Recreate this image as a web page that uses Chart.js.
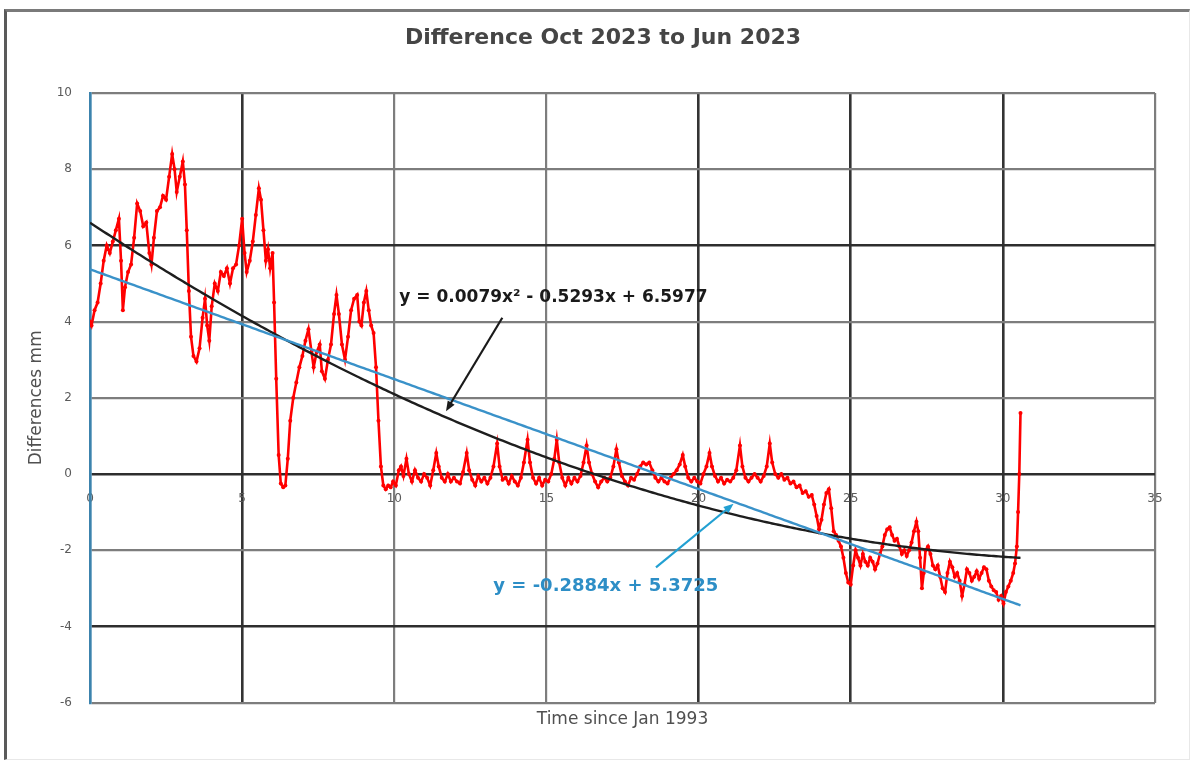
<!DOCTYPE html>
<html>
 <head>
  <meta charset="utf-8" />
  <title>Difference Oct 2023 to Jun 2023</title>
  <style>
   body { margin: 0; background: #fff; overflow: hidden; }
   #diffChart { position: absolute; left: 0; top: 0; }
   #frame { position: absolute; left: 4px; top: 9px; width: 1182px; height: 747px;
            border-left: 3px solid #5a5a5a; border-top: 3px solid #7a7a7a;
            border-right: 1px solid #e8e8e8; border-bottom: 1px solid #e8e8e8;
            pointer-events: none; }
  </style>
 </head>
 <body>
  <canvas id="diffChart" width="1193" height="760"></canvas>
  <div id="frame"></div>

  <script src="https://cdn.jsdelivr.net/npm/chart.js@4.4.0/dist/chart.umd.min.js"></script>
  <script>

// ---- data ----
const chartTitle = 'Difference Oct 2023 to Jun 2023';
const xTitle = 'Time since Jan 1993';
const yTitle = 'Differences mm';

const xTickValues = [0, 5, 10, 15, 20, 25, 30, 35];
const yTickValues = [-6, -4, -2, 0, 2, 4, 6, 8, 10];

// years since Jan 1993
const timeYears = [
  0.00, 0.05, 0.15, 0.25, 0.35, 0.45, 0.55, 0.65, 0.75, 0.85, 0.95, 1.02, 1.08, 1.15, 1.25, 1.35, 1.45, 1.55, 1.65, 1.75,
  1.85, 1.95, 2.02, 2.10, 2.20, 2.30, 2.40, 2.50, 2.60, 2.70, 2.78, 2.85, 2.95, 3.05, 3.12, 3.18, 3.25, 3.32, 3.40, 3.50,
  3.60, 3.70, 3.78, 3.85, 3.92, 4.00, 4.10, 4.20, 4.30, 4.40, 4.50, 4.60, 4.70, 4.80, 4.90, 5.00, 5.08, 5.15, 5.25, 5.35,
  5.45, 5.55, 5.62, 5.70, 5.78, 5.85, 5.92, 6.00, 6.05, 6.12, 6.20, 6.27, 6.35, 6.42, 6.50, 6.58, 6.68, 6.78, 6.88, 6.98,
  7.08, 7.18, 7.28, 7.35, 7.45, 7.55, 7.62, 7.72, 7.82, 7.92, 8.02, 8.10, 8.18, 8.28, 8.38, 8.48, 8.58, 8.68, 8.78, 8.85,
  8.92, 9.00, 9.08, 9.16, 9.24, 9.32, 9.40, 9.48, 9.56, 9.64, 9.72, 9.80, 9.88, 9.96,
  10.05, 10.15, 10.22, 10.30, 10.40, 10.48, 10.58, 10.68, 10.78, 10.88, 10.98,
  11.08, 11.18, 11.28, 11.38, 11.46, 11.56, 11.66, 11.76, 11.86, 11.96,
  12.06, 12.16, 12.26, 12.38, 12.46, 12.56, 12.66, 12.76, 12.86, 12.96,
  13.06, 13.16, 13.26, 13.38, 13.46, 13.56, 13.66, 13.76, 13.86, 13.96,
  14.06, 14.16, 14.26, 14.38, 14.46, 14.56, 14.66, 14.76, 14.86, 14.96,
  15.06, 15.16, 15.26, 15.34, 15.42, 15.52, 15.62, 15.72, 15.82, 15.92,
  16.02, 16.12, 16.22, 16.32, 16.40, 16.50, 16.60, 16.70, 16.80, 16.90,
  17.00, 17.10, 17.20, 17.30, 17.38, 17.48, 17.58, 17.68, 17.78, 17.88, 17.98,
  18.08, 18.18, 18.28, 18.38, 18.48, 18.58, 18.68, 18.78, 18.88, 18.98,
  19.08, 19.18, 19.28, 19.38, 19.48, 19.56, 19.66, 19.76, 19.86, 19.96,
  20.06, 20.16, 20.26, 20.36, 20.44, 20.54, 20.64, 20.74, 20.84, 20.94,
  21.04, 21.14, 21.24, 21.36, 21.44, 21.54, 21.64, 21.74, 21.84, 21.94,
  22.04, 22.14, 22.24, 22.34, 22.42, 22.52, 22.62, 22.72, 22.82, 22.92,
  23.02, 23.12, 23.22, 23.32, 23.42, 23.52, 23.62, 23.72, 23.80, 23.88, 23.96, 24.04, 24.12, 24.20, 24.28, 24.36, 24.44,
  24.52, 24.60, 24.68, 24.76, 24.84, 24.92, 25.00, 25.08, 25.16, 25.24, 25.32, 25.40, 25.48, 25.56, 25.64, 25.72, 25.80,
  25.88, 25.96, 26.04, 26.12, 26.20, 26.28, 26.36, 26.44, 26.52, 26.60, 26.68, 26.76, 26.84, 26.92, 27.00, 27.08, 27.16,
  27.22, 27.28, 27.34, 27.40, 27.46, 27.54, 27.62, 27.70, 27.78, 27.86, 27.94, 28.02, 28.10, 28.18, 28.26, 28.34, 28.42,
  28.50, 28.58, 28.66, 28.74, 28.82, 28.90, 28.98, 29.06, 29.14, 29.22, 29.30, 29.38, 29.46, 29.54, 29.62, 29.70, 29.78,
  29.86, 29.94, 30.02, 30.10, 30.18, 30.26, 30.34, 30.40, 30.46, 30.50, 30.54, 30.58
];

// difference in mm
const diffMm = [
  4.0, 3.9, 4.3, 4.5, 5.0, 5.6, 6.0, 5.8, 6.1, 6.4, 6.7, 5.6, 4.3, 4.9, 5.3, 5.5, 6.2, 7.1, 6.9, 6.5,
  6.6, 5.8, 5.5, 6.2, 6.9, 7.0, 7.3, 7.2, 7.8, 8.4, 8.0, 7.4, 7.8, 8.2, 7.6, 6.4, 4.8, 3.6, 3.1, 2.95,
  3.3, 4.1, 4.6, 3.9, 3.5, 4.4, 5.0, 4.8, 5.3, 5.2, 5.4, 5.0, 5.4, 5.5, 6.0, 6.7, 5.8, 5.3, 5.6, 6.1,
  6.8, 7.5, 7.2, 6.4, 5.6, 5.9, 5.4, 5.8, 4.5, 2.5, 0.5, -0.25, -0.35, -0.3, 0.4, 1.4, 2.0, 2.4, 2.8, 3.1,
  3.5, 3.8, 3.2, 2.8, 3.2, 3.4, 2.7, 2.5, 3.0, 3.4, 4.2, 4.7, 4.2, 3.4, 3.0, 3.6, 4.3, 4.6, 4.7, 4.0,
  3.9, 4.5, 4.8, 4.3, 3.9, 3.7, 2.8, 1.4, 0.2, -0.3, -0.4, -0.3, -0.35, -0.2,
  -0.3, 0.1, 0.2, -0.05, 0.4, 0.0, -0.2, 0.1, -0.1, -0.2, 0.0,
  -0.1, -0.3, 0.1, 0.55, 0.2, -0.1, -0.2, 0.0, -0.2, -0.1,
  -0.2, -0.25, 0.05, 0.55, 0.1, -0.15, -0.3, -0.05, -0.2, -0.1,
  -0.25, -0.1, 0.2, 0.8, 0.2, -0.15, -0.1, -0.25, -0.05, -0.2,
  -0.3, -0.1, 0.3, 0.9, 0.3, -0.1, -0.25, -0.1, -0.3, -0.15,
  -0.2, 0.0, 0.4, 0.9, 0.3, -0.1, -0.3, -0.1, -0.25, -0.1,
  -0.2, -0.05, 0.3, 0.75, 0.3, 0.0, -0.2, -0.35, -0.2, -0.1,
  -0.2, -0.1, 0.2, 0.65, 0.3, -0.05, -0.2, -0.3, -0.1, -0.15, 0.0,
  0.2, 0.3, 0.25, 0.3, 0.1, -0.1, -0.2, -0.1, -0.2, -0.25,
  -0.1, 0.0, 0.1, 0.25, 0.5, 0.2, -0.1, -0.2, -0.1, -0.2,
  -0.25, 0.0, 0.2, 0.55, 0.2, -0.05, -0.2, -0.1, -0.25, -0.15,
  -0.2, -0.1, 0.1, 0.75, 0.2, -0.1, -0.2, -0.1, 0.0, -0.1,
  -0.2, -0.05, 0.2, 0.8, 0.3, 0.0, -0.1, 0.0, -0.15, -0.1,
  -0.25, -0.2, -0.35, -0.3, -0.5, -0.45, -0.6, -0.55, -0.8, -1.1, -1.45, -1.2, -0.8, -0.5, -0.4, -0.9, -1.5,
  -1.6, -1.75, -1.9, -2.2, -2.6, -2.85, -2.9, -2.4, -2.0, -2.2, -2.4, -2.1, -2.3, -2.4, -2.2, -2.3, -2.5,
  -2.35, -2.1, -1.9, -1.6, -1.45, -1.4, -1.6, -1.75, -1.7, -1.9, -2.1, -2.0, -2.15, -2.0, -1.8, -1.5, -1.25,
  -1.5, -2.2, -3.0, -2.6, -2.0, -1.9, -2.1, -2.4, -2.5, -2.4, -2.7, -3.0, -3.1, -2.6, -2.3, -2.45, -2.7,
  -2.6, -2.8, -3.2, -2.9, -2.5, -2.6, -2.8, -2.7, -2.55, -2.75, -2.6, -2.45, -2.5, -2.8, -2.95, -3.05, -3.1,
  -3.3, -3.2, -3.4, -3.1, -2.95, -2.8, -2.6, -2.35, -1.9, -1.0, 0.0, 1.6
];

// trend lines as printed on the chart
const polyFit = [0.0079, -0.5293, 6.5977];   // a x^2 + b x + c
const linearFit = [-0.2884, 5.3725];         // m x + c
const polyLabel = 'y = 0.0079x\u00B2 - 0.5293x + 6.5977';
const linearLabel = 'y = -0.2884x + 5.3725';

// ---- build series ----
const redPoints = timeYears.map((t, i) => ({ x: t, y: diffMm[i] }));
const polyPoints = timeYears.map(t => ({ x: t, y: polyFit[0] * t * t + polyFit[1] * t + polyFit[2] }));
const linearPoints = timeYears.map(t => ({ x: t, y: linearFit[0] * t + linearFit[1] }));

const darkRows = [6, 0, -4];
const darkCols = [5, 20, 25, 30];
const blueAxis = '#3c83ad';

function drawArrow(ctx, x1, y1, x2, y2, color) {
  const ang = Math.atan2(y2 - y1, x2 - x1);
  ctx.save();
  ctx.strokeStyle = color;
  ctx.fillStyle = color;
  ctx.lineWidth = 2.2;
  ctx.beginPath();
  ctx.moveTo(x1, y1);
  ctx.lineTo(x2 - 6 * Math.cos(ang), y2 - 6 * Math.sin(ang));
  ctx.stroke();
  ctx.beginPath();
  ctx.moveTo(x2, y2);
  ctx.lineTo(x2 - 10 * Math.cos(ang) + 4 * Math.sin(ang), y2 - 10 * Math.sin(ang) - 4 * Math.cos(ang));
  ctx.lineTo(x2 - 10 * Math.cos(ang) - 4 * Math.sin(ang), y2 - 10 * Math.sin(ang) + 4 * Math.cos(ang));
  ctx.closePath();
  ctx.fill();
  ctx.restore();
}

// title + trend line notes
const notesPlugin = {
  id: 'notes',
  afterDraw(chart) {
    const ctx = chart.ctx;
    const sx = chart.scales.x, sy = chart.scales.y;
    const px = v => sx.getPixelForValue(v);
    const py = v => sy.getPixelForValue(v);

    ctx.save();
    ctx.textAlign = 'center';
    ctx.textBaseline = 'middle';
    ctx.fillStyle = '#454545';
    ctx.font = 'bold 22px "DejaVu Sans"';
    ctx.fillText(chartTitle, 603, 38);

    ctx.fillStyle = '#1a1a1a';
    ctx.font = 'bold 17px "DejaVu Sans"';
    ctx.fillText(polyLabel, px(15.23), py(4.62));
    ctx.fillStyle = '#2d8ec6';
    ctx.font = 'bold 18px "DejaVu Sans"';
    ctx.fillText(linearLabel, px(16.95), py(-2.94));
    ctx.restore();

    drawArrow(ctx, px(13.55), py(4.1), px(11.7), py(1.65), '#1a1a1a');
    drawArrow(ctx, px(18.6), py(-2.45), px(21.15), py(-0.78), '#22a0d2');
  }
};

new Chart(document.getElementById('diffChart'), {
  type: 'line',
  data: {
    datasets: [
      {
        label: 'Difference',
        data: redPoints,
        borderColor: '#ff0000',
        backgroundColor: '#ff0000',
        borderWidth: 2.6,
        pointRadius: 2,
        pointBorderWidth: 0,
        tension: 0,
        order: 3
      },
      {
        label: 'Poly. trend',
        data: polyPoints,
        borderColor: '#1e1e1e',
        borderWidth: 2.4,
        pointRadius: 0,
        tension: 0,
        order: 2
      },
      {
        label: 'Linear trend',
        data: linearPoints,
        borderColor: '#3a92c9',
        borderWidth: 2.4,
        pointRadius: 0,
        tension: 0,
        order: 1
      }
    ]
  },
  options: {
    responsive: false,
    animation: false,
    events: [],
    layout: { padding: { left: 8, right: 38, top: 93, bottom: 22 } },
    plugins: {
      legend: { display: false },
      tooltip: { enabled: false }
    },
    scales: {
      x: {
        type: 'linear',
        min: 0,
        max: 35,
        afterBuildTicks: s => { s.ticks = xTickValues.map(v => ({ value: v })); },
        ticks: { display: false },
        grid: {
          drawTicks: false,
          color: c => c.tick.value === 0 ? blueAxis : (darkCols.includes(c.tick.value) ? '#333333' : '#7d7d7d'),
          lineWidth: c => darkCols.includes(c.tick.value) ? 2.6 : 2.2
        },
        border: { display: false },
        title: {
          display: true,
          text: xTitle,
          color: '#505050',
          font: { family: 'DejaVu Sans', size: 17 },
          padding: { top: 7, bottom: 8 }
        }
      },
      xZero: {
        type: 'linear',
        axis: 'x',
        position: { y: 0 },
        min: 0,
        max: 35,
        afterBuildTicks: s => { s.ticks = xTickValues.map(v => ({ value: v })); },
        grid: { display: false, drawTicks: false },
        border: { display: false },
        ticks: {
          padding: 18,
          color: '#5a5a5a',
          font: { family: 'DejaVu Sans', size: 12 }
        }
      },
      y: {
        type: 'linear',
        min: -6,
        max: 10,
        afterBuildTicks: s => { s.ticks = yTickValues.map(v => ({ value: v })); },
        afterFit: s => { s.width = 82; },
        ticks: {
          padding: 18,
          color: '#5a5a5a',
          font: { family: 'DejaVu Sans', size: 12 }
        },
        grid: {
          drawTicks: false,
          color: c => darkRows.includes(c.tick.value) ? '#2e2e2e' : '#7d7d7d',
          lineWidth: c => darkRows.includes(c.tick.value) ? 2.6 : 2.2
        },
        border: { display: true, color: blueAxis, width: 2.6 },
        title: {
          display: true,
          text: yTitle,
          color: '#505050',
          font: { family: 'DejaVu Sans', size: 17 },
          padding: { top: 18, bottom: 0 }
        }
      }
    }
  },
  plugins: [notesPlugin]
});

  </script>
 </body>
</html>
